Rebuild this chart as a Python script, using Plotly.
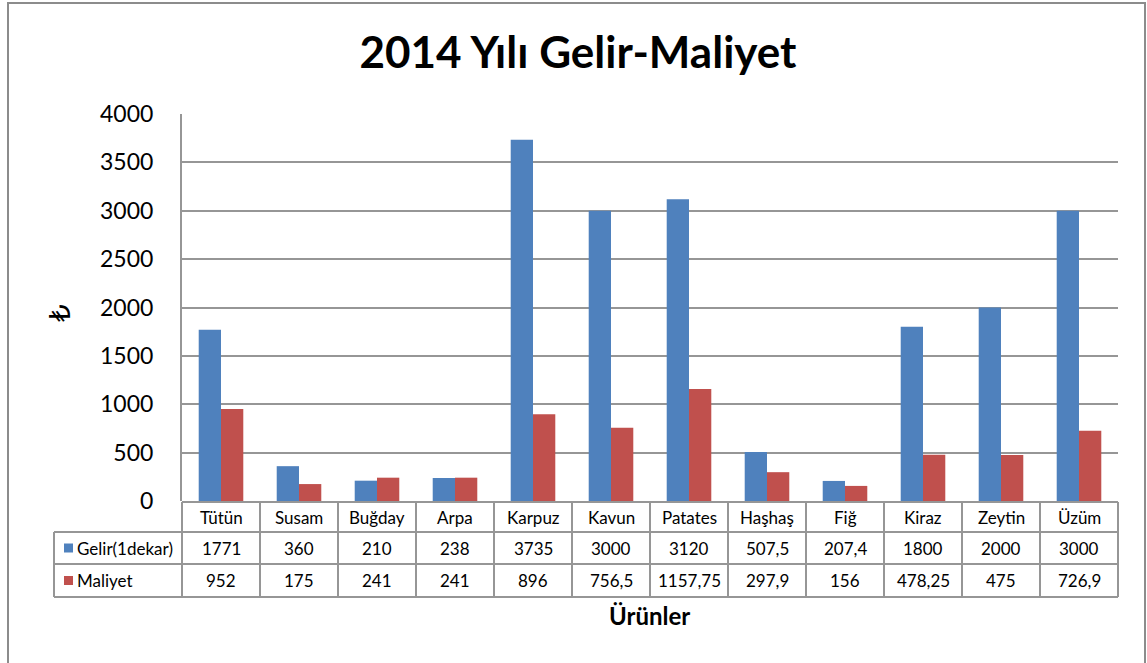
import plotly.graph_objects as go

categories = ["Tütün", "Susam", "Buğday", "Arpa", "Karpuz", "Kavun", "Patates",
              "Haşhaş", "Fiğ", "Kiraz", "Zeytin", "Üzüm"]
gelir = [1771, 360, 210, 238, 3735, 3000, 3120, 507.5, 207.4, 1800, 2000, 3000]
maliyet = [952, 175, 241, 241, 896, 756.5, 1157.75, 297.9, 156, 478.25, 475, 726.9]
series_names = ["Gelir(1dekar)", "Maliyet"]
colors = ["#4F81BD", "#C0504D"]
title_text = "2014 Yılı Gelir-Maliyet"
x_title = "Ürünler"
y_title = "₺"
y_ticks = [0, 500, 1000, 1500, 2000, 2500, 3000, 3500, 4000]

W, H = 1147, 663
PL, PR, PT, PB = 182, 1118, 114, 501
FONT = "Lato, 'Open Sans', sans-serif"
GRID = "#969696"


def px(x):
    return (x - PL) / (PR - PL)


def py(y):
    return (PB - y) / (PB - PT)


def fmt(v):
    return f"{v:g}".replace(".", ",")


fig = go.Figure()
for name, vals, col in zip(series_names, [gelir, maliyet], colors):
    fig.add_trace(go.Bar(x=categories, y=vals, name=name,
                         marker=dict(color=col, line=dict(width=0))))

shapes = []
annotations = []
n = len(categories)
col_w = (PR - PL) / n

# table rows (pixel y)
y_top, y_h, y_r1, y_r2 = 502, 532, 564, 597
leg_left = 54
line = dict(color=GRID, width=2)
shapes.append(dict(type="line", xref="paper", yref="paper", x0=px(PL), x1=px(PR), y0=py(y_top), y1=py(y_top), line=line))
for yy in [y_h, y_r1, y_r2]:
    shapes.append(dict(type="line", xref="paper", yref="paper", x0=px(leg_left), x1=px(PR), y0=py(yy), y1=py(yy), line=line))
shapes.append(dict(type="line", xref="paper", yref="paper", x0=px(leg_left), x1=px(leg_left), y0=py(y_h), y1=py(y_r2), line=line))
for i in range(n + 1):
    xx = PL + i * col_w
    shapes.append(dict(type="line", xref="paper", yref="paper", x0=px(xx), x1=px(xx), y0=py(y_top), y1=py(y_r2), line=line))

tfont = dict(family=FONT, size=17, color="black")
for i, c in enumerate(categories):
    xc = px(PL + (i + 0.5) * col_w)
    annotations.append(dict(text=c, x=xc, y=py((y_top + y_h) / 2), xref="paper", yref="paper",
                            showarrow=False, font=tfont, xanchor="center", yanchor="middle"))
    for vals, (ya, yb) in zip([gelir, maliyet], [(y_h, y_r1), (y_r1, y_r2)]):
        annotations.append(dict(text=fmt(vals[i]), x=xc, y=py((ya + yb) / 2), xref="paper", yref="paper",
                                showarrow=False, font=tfont, xanchor="center", yanchor="middle"))

for name, col, (ya, yb) in zip(series_names, colors, [(y_h, y_r1), (y_r1, y_r2)]):
    ym = (ya + yb) / 2
    shapes.append(dict(type="rect", xref="paper", yref="paper", x0=px(64), x1=px(73),
                       y0=py(ym - 4.5), y1=py(ym + 4.5), fillcolor=col, line=dict(width=0)))
    annotations.append(dict(text=name, x=px(75), y=py(ym), xref="paper", yref="paper",
                            showarrow=False, font=tfont, xanchor="left", yanchor="middle"))

# outer chart frame
shapes.append(dict(type="rect", xref="paper", yref="paper", x0=px(8), x1=px(1145),
                   y0=py(700), y1=py(3), line=dict(color="#8c8c8c", width=2)))

annotations.append(dict(text=f"<b>{x_title}</b>", x=px(649), y=py(615), xref="paper", yref="paper",
                        showarrow=False, font=dict(family=FONT, size=24, color="black"),
                        xanchor="center", yanchor="middle"))
annotations.append(dict(text=y_title, x=px(60), y=py(313), xref="paper", yref="paper",
                        showarrow=False, textangle=-90,
                        font=dict(family="'DejaVu Sans', sans-serif", size=28, color="black"),
                        xanchor="center", yanchor="middle"))

fig.update_layout(
    width=W, height=H,
    margin=dict(l=PL, r=W - PR, t=PT, b=H - PB),
    paper_bgcolor="white", plot_bgcolor="white",
    showlegend=False,
    bargap=1.5 / 3.5, bargroupgap=0,
    title=dict(text=f"<b>{title_text}</b>", x=578 / W, xref="container",
               y=1 - 53 / H, yref="container", xanchor="center", yanchor="middle",
               font=dict(family=FONT, size=44, color="black")),
    font=dict(family=FONT, color="black"),
    xaxis=dict(showticklabels=False, ticks="", showgrid=False, showline=False, zeroline=False,
               range=[-0.5, n - 0.5]),
    yaxis=dict(range=[0, 4000], tickvals=y_ticks, showgrid=True, gridcolor=GRID, gridwidth=1.5,
               showline=True, linecolor=GRID, linewidth=2, zeroline=False,
               ticks="", ticklabelstandoff=22, tickfont=dict(family=FONT, size=23, color="black")),
    shapes=shapes, annotations=annotations,
)

fig.write_html("out.html", config={"displayModeBar": False},
               post_script="document.body.style.margin='0';")
